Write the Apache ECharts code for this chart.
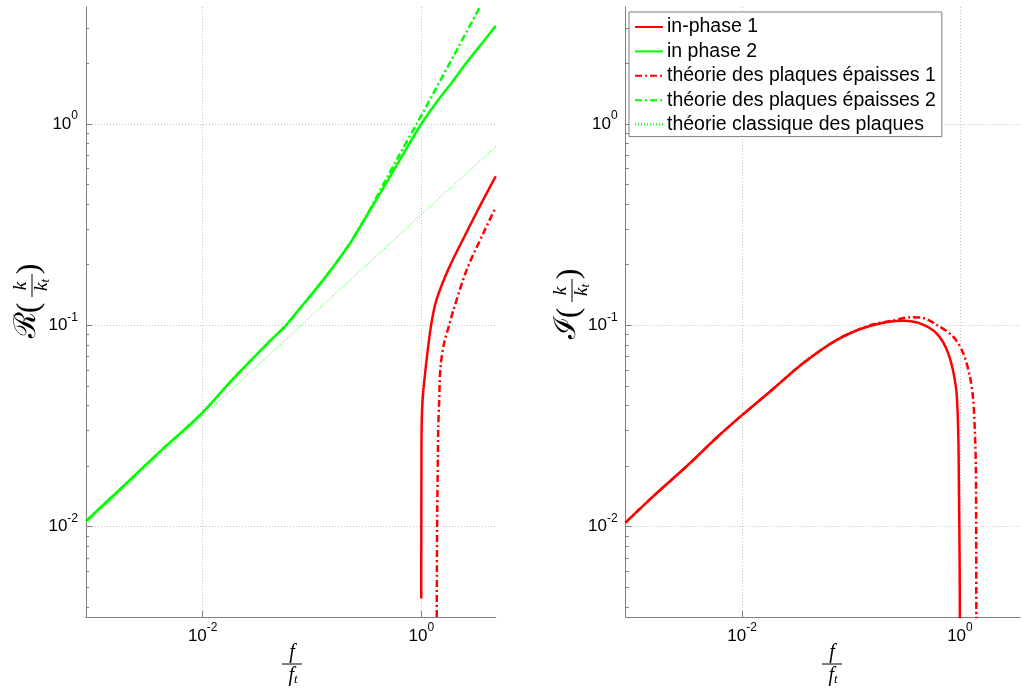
<!DOCTYPE html>
<html><head><meta charset="utf-8">
<script src="https://cdn.jsdelivr.net/npm/echarts@6/dist/echarts.min.js"></script>
<style>html,body{margin:0;padding:0;background:#fff}#c{width:1022px;height:688px}</style>
</head><body><div id="c"></div><script>
// ---------- axis ranges and ticks ----------
const X_MIN = 0.000855;
const LEFT_X_MAX = 4.8;
const RIGHT_X_MAX = 3.56;
const Y_MIN = 0.00356;
const Y_MAX = 3.81;
const X_TICKS = [0.01, 1];
const Y_TICKS = [0.01, 0.1, 1];
const MINOR_MULTS = [2, 3, 4, 5, 6, 7, 8, 9];
const MINOR_DECADES = [0.001, 0.01, 0.1, 1];

// ---------- left panel: real part ----------
const L_F_PHASE1 = [1.0, 1.001, 1.004, 1.008, 1.03, 1.10, 1.23, 1.38, 1.77, 2.6, 3.6, 4.8];
const L_V_PHASE1 = [0.0044, 0.01, 0.02, 0.031, 0.043, 0.062, 0.1, 0.134, 0.19, 0.29, 0.41, 0.55];

const L_F_PHASE2 = [0.000855, 0.002, 0.0042, 0.00945, 0.01905, 0.0385, 0.0578, 0.0777, 0.1104, 0.1566, 0.2228, 0.3165, 0.449, 0.638, 1.0, 1.43, 1.83, 2.6, 3.5, 4.8];
const L_V_PHASE2 = [0.01066, 0.0164, 0.024, 0.0358, 0.0543, 0.0805, 0.1, 0.1215, 0.153, 0.1955, 0.255, 0.35, 0.48, 0.665, 1.0, 1.316, 1.56, 2.02, 2.47, 3.07];

const L_F_THICK1 = [1.385, 1.39, 1.40, 1.42, 1.43, 1.46, 1.50, 1.62, 1.80, 1.96, 2.6, 3.69, 4.8];
const L_V_THICK1 = [0.003, 0.006, 0.012, 0.022, 0.031, 0.043, 0.062, 0.082, 0.1, 0.118, 0.188, 0.286, 0.385];

const L_F_THICK2 = [0.000855, 0.002, 0.0042, 0.00945, 0.01905, 0.0385, 0.0578, 0.0777, 0.1104, 0.1566, 0.2228, 0.3165, 0.449, 0.638, 0.908, 1.3, 2.0, 3.39];
const L_V_THICK2 = [0.01066, 0.0164, 0.024, 0.0358, 0.0543, 0.0805, 0.1, 0.1215, 0.153, 0.1955, 0.256, 0.352, 0.5, 0.71, 1.0, 1.43, 2.2, 3.76];

const L_F_CLASSIC = [0.000855, 0.01, 0.1, 1.0, 4.8];
const L_V_CLASSIC = [0.0104, 0.0355, 0.112, 0.355, 0.77];

// ---------- right panel: imaginary part ----------
const R_F_PHASE1 = [0.00085, 0.00152, 0.00308, 0.00624, 0.01, 0.018, 0.0363, 0.0736, 0.149, 0.301, 0.429, 0.61, 0.781, 0.92, 0.965, 0.978, 0.993, 1.0];
const R_V_PHASE1 = [0.01047, 0.0141, 0.0199, 0.0286, 0.0358, 0.0468, 0.0648, 0.0845, 0.0992, 0.1055, 0.1023, 0.0912, 0.0726, 0.049, 0.0291, 0.0164, 0.007, 0.003];

const R_F_THICK1 = [0.00085, 0.00152, 0.00308, 0.00624, 0.01, 0.018, 0.0363, 0.0736, 0.149, 0.25, 0.347, 0.45, 0.61, 0.868, 1.073, 1.236, 1.325, 1.37, 1.40, 1.41, 1.415];
const R_V_THICK1 = [0.01047, 0.0141, 0.0199, 0.0286, 0.0358, 0.0468, 0.0648, 0.0845, 0.1, 0.106, 0.1096, 0.109, 0.1007, 0.0878, 0.0726, 0.0555, 0.0426, 0.03, 0.0199, 0.0085, 0.003];

// ---------- names ----------
const NAMES = ['in-phase 1', 'in phase 2', 'théorie des plaques épaisses 1', 'théorie des plaques épaisses 2', 'théorie classique des plaques'];

const RED = '#ff0000', GREEN = '#00ff00';
const AXIS_GRAY = '#7f7f7f';
const DASHDOT = [7, 3, 2, 3];

function pairs(f, v) { return f.map((x, i) => [x, v[i]]); }
const MINOR = [];
MINOR_DECADES.forEach(d => MINOR_MULTS.forEach(m => MINOR.push(+(d * m).toPrecision(3))));

const labelRich = {
  b: { fontSize: 17, fontFamily: 'Liberation Sans, Arial, sans-serif', color: '#000' },
  s: { fontSize: 12, fontFamily: 'Liberation Sans, Arial, sans-serif', color: '#000', padding: [0, 0, 16, 0] }
};
function powLabel(v) {
  const e = Math.round(Math.log10(v));
  return '{b|10}{s|' + e + '}';
}

function xAxis(grid, max) {
  return {
    type: 'log', logBase: 10, gridIndex: grid, min: X_MIN, max: max,
    axisLine: { show: true, lineStyle: { color: AXIS_GRAY, width: 1 } },
    axisTick: { show: true, inside: true, length: 6, customValues: X_TICKS, lineStyle: { color: AXIS_GRAY } },
    axisLabel: { show: true, customValues: X_TICKS, formatter: powLabel, rich: labelRich, margin: 5 },
    splitLine: { show: true, lineStyle: { color: '#c4c4c4', type: [1, 2], width: 1 } },
    minorTick: { show: false }
  };
}
function yMain(grid) {
  return {
    type: 'log', logBase: 10, gridIndex: grid, min: Y_MIN, max: Y_MAX, position: 'left',
    axisLine: { show: true, lineStyle: { color: AXIS_GRAY, width: 1 } },
    axisTick: { show: true, inside: true, length: 6, customValues: Y_TICKS, lineStyle: { color: AXIS_GRAY } },
    axisLabel: { show: true, customValues: Y_TICKS, formatter: powLabel, rich: labelRich, margin: 8 },
    splitLine: { show: true, lineStyle: { color: '#c4c4c4', type: [1, 2], width: 1 } }
  };
}
function yMinor(grid) {
  return {
    type: 'log', logBase: 10, gridIndex: grid, min: Y_MIN, max: Y_MAX, position: 'left',
    axisLine: { show: false },
    axisTick: { show: true, inside: true, length: 3, customValues: MINOR, lineStyle: { color: AXIS_GRAY } },
    axisLabel: { show: false },
    splitLine: { show: false }
  };
}

function line(name, data, color, xi, yi, kind) {
  const ls = { color: color, width: 2.5, type: 'solid' };
  if (kind === 'dashdot') { ls.type = DASHDOT; ls.width = 2.5; }
  if (kind === 'dot') { ls.type = [1, 2]; ls.width = 1; }
  return {
    name: name, type: 'line', xAxisIndex: xi, yAxisIndex: yi, data: data,
    symbol: 'none', showSymbol: false, smooth: 0.3, clip: true,
    lineStyle: ls, itemStyle: { color: color }, emphasis: { disabled: true }
  };
}

const serif = '"Liberation Serif", "DejaVu Serif", serif';
function xFraction(cx) {
  return {
    type: 'group', x: cx, y: 664, children: [
      { type: 'text', x: 0, y: -1, style: { text: 'f', font: 'italic 20px ' + serif, fill: '#000', align: 'center', verticalAlign: 'bottom' } },
      { type: 'line', shape: { x1: -10, y1: 0, x2: 10, y2: 0 }, style: { stroke: '#000', lineWidth: 1 } },
      { type: 'text', x: 1, y: 1, style: { text: '{a|f}{t|t}', rich: { a: { font: 'italic 20px ' + serif, fill: '#000' }, t: { font: 'italic 13px ' + serif, fill: '#000', padding: [8, 0, 0, 0] } }, align: 'center', verticalAlign: 'top' } }
    ]
  };
}
function yLabel(sym, gx, gy) {
  return {
    type: 'group', x: gx, y: gy, rotation: Math.PI / 2, children: [
      { type: 'text', x: -9, y: -4, style: { text: sym, font: '30px "DejaVu Serif", serif', fill: '#000', align: 'right', verticalAlign: 'middle' } },
      { type: 'text', x: -5, y: -1, style: { text: '(', font: '32px ' + serif, fill: '#000', align: 'center', verticalAlign: 'middle' } },
      { type: 'text', x: 17, y: -1, style: { text: 'k', font: 'italic 19px ' + serif, fill: '#000', align: 'center', verticalAlign: 'bottom' } },
      { type: 'line', shape: { x1: 6, y1: 1, x2: 29, y2: 1 }, style: { stroke: '#000', lineWidth: 1 } },
      { type: 'text', x: 18, y: 1, style: { text: '{a|k}{t|t}', rich: { a: { font: 'italic 19px ' + serif, fill: '#000' }, t: { font: 'italic 13px ' + serif, fill: '#000', padding: [7, 0, 0, 0] } }, align: 'center', verticalAlign: 'top' } },
      { type: 'text', x: 34, y: -1, style: { text: ')', font: '32px ' + serif, fill: '#000', align: 'center', verticalAlign: 'middle' } }
    ]
  };
}

const chart = echarts.init(document.getElementById('c'), null, { renderer: 'canvas' });
chart.setOption({
  animation: false,
  backgroundColor: '#ffffff',
  grid: [
    { left: 86, top: 7, width: 409.7, height: 610, containLabel: false },
    { left: 625.7, top: 7, width: 394.3, height: 610, containLabel: false }
  ],
  xAxis: [xAxis(0, LEFT_X_MAX), xAxis(1, RIGHT_X_MAX)],
  yAxis: [yMain(0), yMinor(0), yMain(1), yMinor(1)],
  legend: {
    data: NAMES, orient: 'vertical', left: 629, top: 12,
    backgroundColor: '#ffffff', borderColor: AXIS_GRAY, borderWidth: 1, borderRadius: 0,
    padding: [5, 6, 2, 5], itemGap: 4.4, itemWidth: 28, itemHeight: 14,
    itemStyle: { opacity: 0, color: 'transparent', borderWidth: 0 },
    textStyle: { fontSize: 19.5, lineHeight: 19, color: '#000', fontFamily: 'Liberation Sans, Arial, sans-serif', padding: [0, 0, 0, -1] },
    selectedMode: false
  },
  graphic: [xFraction(292), xFraction(832), yLabel('ℛ', 31, 303), yLabel('ℐ', 571, 308)],
  series: [
    line(NAMES[0], pairs(L_F_PHASE1, L_V_PHASE1), RED, 0, 0, 'solid'),
    line(NAMES[1], pairs(L_F_PHASE2, L_V_PHASE2), GREEN, 0, 0, 'solid'),
    line(NAMES[2], pairs(L_F_THICK1, L_V_THICK1), RED, 0, 0, 'dashdot'),
    line(NAMES[3], pairs(L_F_THICK2, L_V_THICK2), GREEN, 0, 0, 'dashdot'),
    line(NAMES[4], pairs(L_F_CLASSIC, L_V_CLASSIC), GREEN, 0, 0, 'dot'),
    line(NAMES[0], pairs(R_F_PHASE1, R_V_PHASE1), RED, 1, 2, 'solid'),
    line(NAMES[2], pairs(R_F_THICK1, R_V_THICK1), RED, 1, 2, 'dashdot')
  ]
});
</script></body></html>
